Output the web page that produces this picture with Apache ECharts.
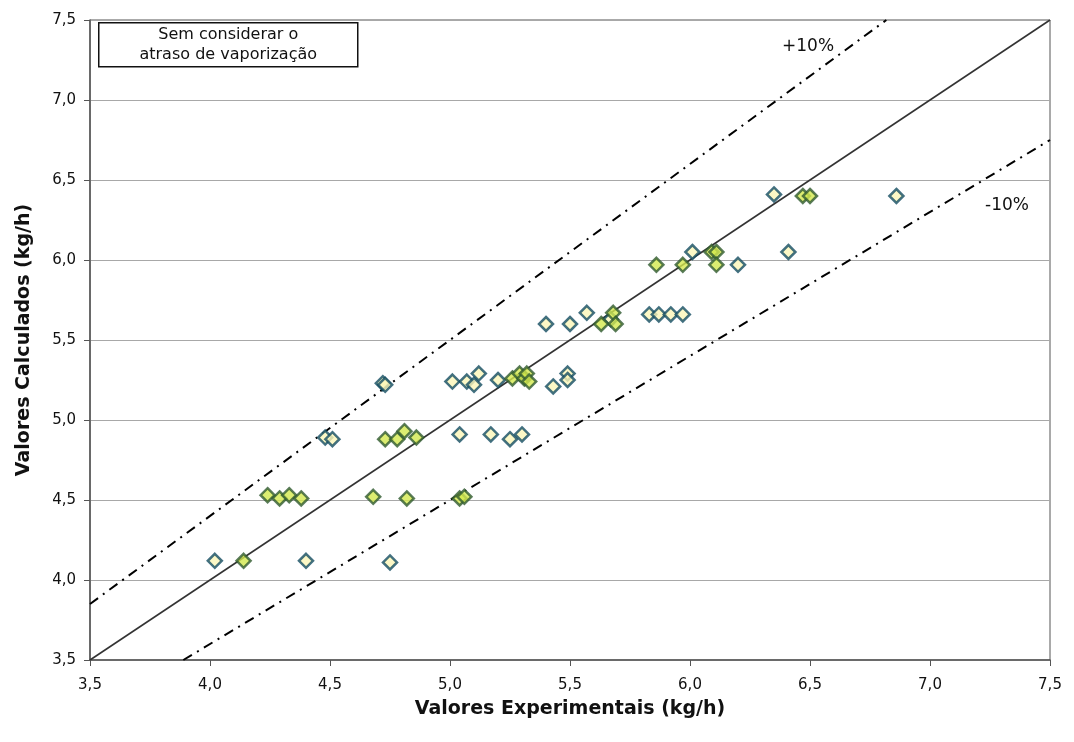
<!DOCTYPE html>
<html>
<head>
<meta charset="utf-8">
<style>
  html, body { margin: 0; padding: 0; background: #fff; }
  #chart { width: 1074px; height: 742px; }
</style>
<script src="https://cdn.jsdelivr.net/npm/echarts@6/dist/echarts.min.js"></script>
</head>
<body>
<div id="chart"></div>
<script>
// pontos sem/com destaque (kg/h): [experimental, calculado]
const seriesA = [
  [4.02, 4.12], [4.40, 4.12], [4.75, 4.11],
  [4.48, 4.89], [4.51, 4.88], [5.04, 4.91], [5.17, 4.91], [5.25, 4.88], [5.30, 4.91],
  [4.72, 5.23], [4.73, 5.22], [5.01, 5.24], [5.07, 5.24], [5.10, 5.22], [5.12, 5.29],
  [5.20, 5.25], [5.43, 5.21], [5.49, 5.29], [5.49, 5.25],
  [5.40, 5.60], [5.50, 5.60], [5.57, 5.67], [5.67, 5.63], [5.83, 5.66], [5.87, 5.66],
  [5.92, 5.66], [5.97, 5.66],
  [6.01, 6.05], [6.20, 5.97], [6.41, 6.05], [6.35, 6.41], [6.86, 6.40]
];
const seriesB = [
  [4.14, 4.12],
  [4.24, 4.53], [4.29, 4.51], [4.33, 4.53], [4.38, 4.51],
  [4.68, 4.52], [4.82, 4.51], [5.04, 4.51], [5.06, 4.52],
  [4.73, 4.88], [4.78, 4.88], [4.81, 4.93], [4.86, 4.89],
  [5.26, 5.26], [5.29, 5.29], [5.31, 5.26], [5.32, 5.29], [5.33, 5.24],
  [5.63, 5.60], [5.68, 5.67], [5.69, 5.60],
  [5.86, 5.97], [5.97, 5.97], [6.09, 6.05], [6.11, 6.05], [6.11, 5.97],
  [6.47, 6.40], [6.50, 6.40]
];
const axisTicks = [3.5, 4.0, 4.5, 5.0, 5.5, 6.0, 6.5, 7.0, 7.5];
const ratios = [1.0, 1.1, 0.9];
const bandLabels = ["+10%", "-10%"];

const lo = axisTicks[0];
const hi = axisTicks[axisTicks.length - 1];

// reta y = r*x recortada ao quadro
function refLine(r) {
  const x0 = Math.max(lo, lo / r);
  const x1 = Math.min(hi, hi / r);
  return [[x0, x0 * r], [x1, x1 * r]];
}

const fmt = function (v) {
  return v.toFixed(1).replace(".", ",");
};

const chart = echarts.init(document.getElementById("chart"));

const font = "DejaVu Sans, Verdana, sans-serif";

const option = {
  animation: false,
  backgroundColor: "#fff",
  grid: {
    left: 90, right: 24, top: 20, bottom: 82,
    show: true, borderColor: "#555", borderWidth: 1
  },
  xAxis: {
    type: "value",
    min: lo, max: hi, interval: 0.5,
    name: "Valores Experimentais (kg/h)",
    nameLocation: "middle",
    nameGap: 40,
    nameTextStyle: { fontFamily: font, fontWeight: "bold", fontSize: 19, color: "#111" },
    axisLine: { lineStyle: { color: "#555", width: 1.5 } },
    axisTick: { show: true, length: 6, lineStyle: { color: "#555" } },
    axisLabel: { formatter: fmt, fontFamily: font, fontSize: 15, color: "#111", margin: 18 },
    splitLine: { show: false }
  },
  yAxis: {
    type: "value",
    min: lo, max: hi, interval: 0.5,
    name: "Valores Calculados (kg/h)",
    nameLocation: "middle",
    nameGap: 56,
    nameTextStyle: { fontFamily: font, fontWeight: "bold", fontSize: 19, color: "#111" },
    axisLine: { lineStyle: { color: "#555", width: 1.5 } },
    axisTick: { show: true, length: 6, lineStyle: { color: "#555" } },
    axisLabel: { formatter: fmt, fontFamily: font, fontSize: 15, color: "#111", margin: 14 },
    splitLine: { show: true, lineStyle: { color: "#a8a8a8", width: 1 } }
  },
  series: [
    {
      type: "line",
      data: refLine(ratios[0]),
      symbol: "none",
      lineStyle: { color: "#333", width: 1.6 },
      z: 2
    },
    {
      type: "line",
      data: refLine(ratios[1]),
      symbol: "none",
      lineStyle: { color: "#000", width: 2, type: [10, 6, 2, 6] },
      z: 2
    },
    {
      type: "line",
      data: refLine(ratios[2]),
      symbol: "none",
      lineStyle: { color: "#000", width: 2, type: [10, 6, 2, 6] },
      z: 2
    },
    {
      type: "scatter",
      data: seriesA,
      symbol: "diamond",
      symbolSize: 14,
      itemStyle: { color: "#fbf6b8", borderColor: "#134c62", borderWidth: 2.5 },
      z: 3
    },
    {
      type: "scatter",
      data: seriesB,
      symbol: "diamond",
      symbolSize: 14,
      itemStyle: { color: "#d3e94e", borderColor: "#2f5a30", borderWidth: 2.5 },
      z: 4
    }
  ],
  graphic: [
    {
      type: "group",
      left: 98, top: 22,
      children: [
        {
          type: "rect",
          shape: { x: 0, y: 0, width: 259, height: 44 },
          style: { fill: "#fff", stroke: "#111", lineWidth: 1.5 }
        },
        {
          type: "text",
          x: 129.5, y: 22,
          style: {
            text: "Sem considerar o\natraso de vaporização",
            fontFamily: font, fontSize: 16, fill: "#111",
            align: "center", verticalAlign: "middle", lineHeight: 20
          }
        }
      ]
    },
    {
      type: "text", left: 782, top: 38,
      style: { text: bandLabels[0], fontFamily: font, fontSize: 17, fill: "#111" }
    },
    {
      type: "text", left: 985, top: 197,
      style: { text: bandLabels[1], fontFamily: font, fontSize: 17, fill: "#111" }
    }
  ]
};

chart.setOption(option);

window.addEventListener("resize", function () {
  chart.resize();
});
</script>
</body>
</html>
